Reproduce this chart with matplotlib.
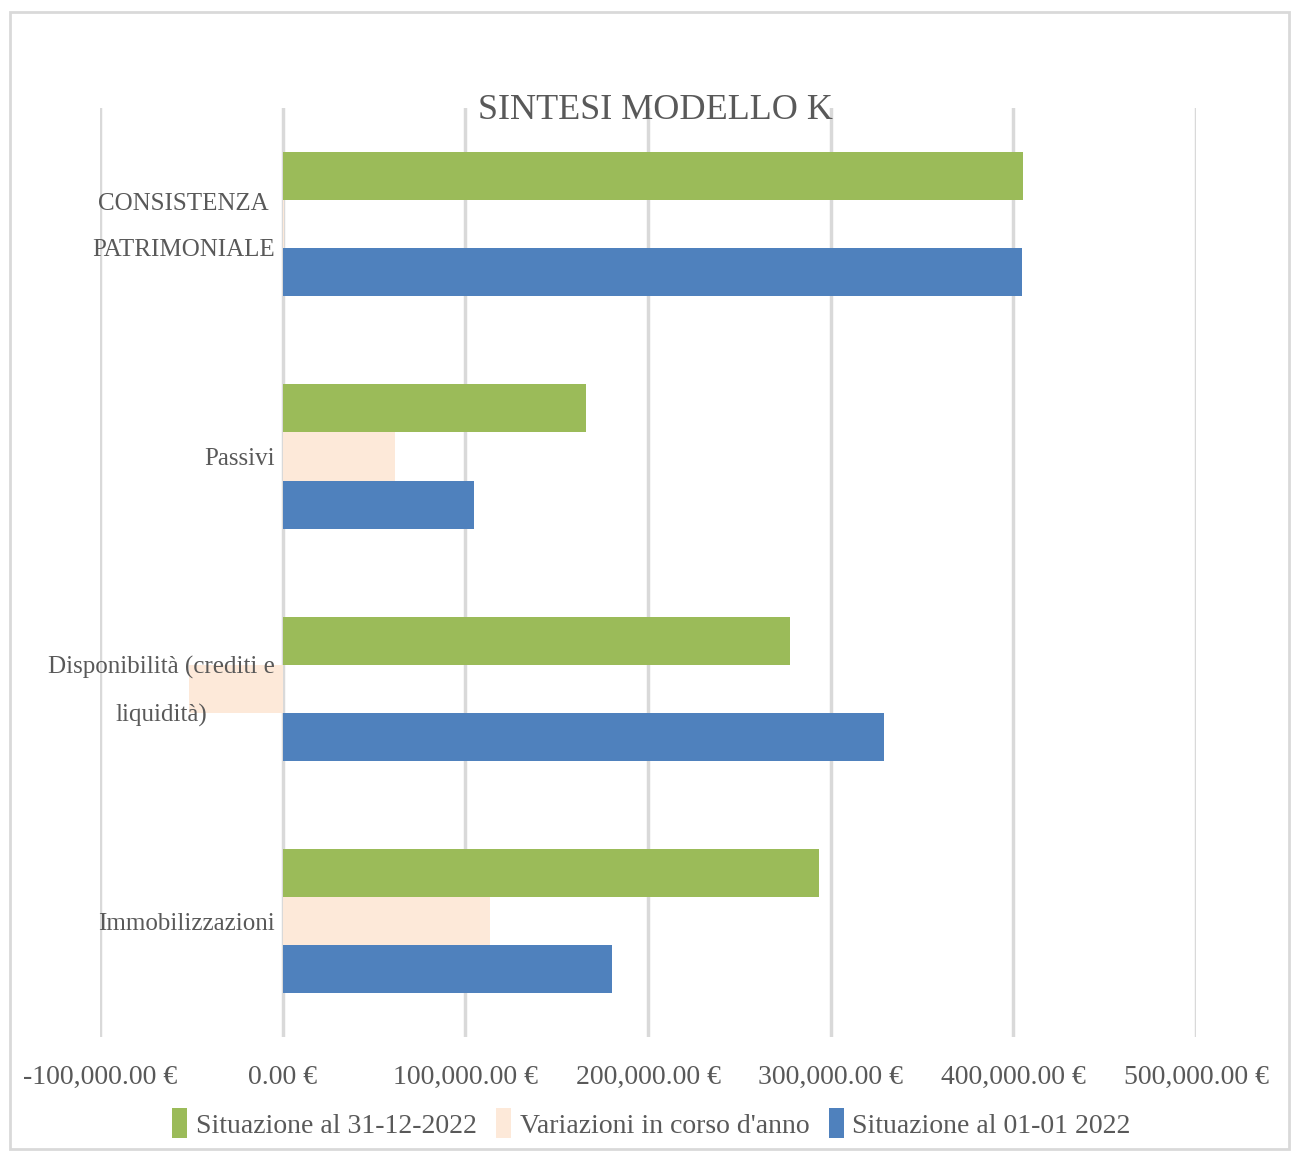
import matplotlib
matplotlib.use("Agg")
import matplotlib.pyplot as plt
import numpy as np
from matplotlib import font_manager
from matplotlib.patches import Rectangle
from matplotlib.ticker import FuncFormatter

categorie = ["Immobilizzazioni", "Disponibilità (crediti e\nliquidità)",
             "Passivi", "CONSISTENZA\nPATRIMONIALE"]
serie = ["Situazione al 31-12-2022", "Variazioni in corso d'anno",
         "Situazione al 01-01 2022"]
fine_anno = [293400, 277500, 165800, 405100]
variazioni = [113300, -51500, 61300, 500]
inizio_anno = [180100, 329000, 104500, 404600]
colori = ["#9BBB59", "#FDE9D9", "#4F81BD"]

# pick a narrow serif if one is around
nomi = {f.name for f in font_manager.fontManager.ttflist}
font = next((n for n in ["DejaVu Serif Condensed", "Liberation Serif", "DejaVu Serif"]
             if n in nomi), "DejaVu Serif")
plt.rcParams['font.family'] = [font, 'DejaVu Sans']
grigio = "#595959"

fig = plt.figure(figsize=(12.91, 11.51), dpi=100)
ax = fig.add_axes([0.0775, 0.099, 0.849, 0.807])

y = np.arange(len(categorie))
h = 0.207
valori = [fine_anno, variazioni, inizio_anno]
for i, (v, c, s) in enumerate(zip(valori, colori, serie)):
    ax.barh(y + (1 - i) * h, v, height=h, color=c, label=s, zorder=2)

ax.set_xlim(-100000, 500000)
ax.set_ylim(-0.5, 3.5)
ax.set_xticks(np.arange(-100000, 500001, 100000))
ax.xaxis.set_major_formatter(FuncFormatter(lambda v, p: "{:,.2f} €".format(v)))
ax.grid(axis='x', color="#d9d9d9", linewidth=2.5, zorder=0)
ax.set_axisbelow(True)
for sp in ax.spines.values():
    sp.set_visible(False)
ax.tick_params(axis='x', length=0, pad=20, labelsize=20, labelcolor=grigio)
ax.set_yticks([])

# category labels sit left of the zero line, like in Excel
for yi, lab in zip(y, categorie):
    ax.annotate(lab, xy=(0, yi), xytext=(-6, -2), textcoords='offset points',
                ha='right', va='center', multialignment='center',
                linespacing=2.4, fontsize=18, color=grigio, zorder=3)

fig.text(0.5075, 0.9036, "SINTESI MODELLO K", ha='center', va='center',
         fontsize=26, color=grigio)

leg = ax.legend(loc='center', bbox_to_anchor=(0.503, -0.093), ncol=3,
                frameon=False, fontsize=20, handlelength=0.55, handleheight=1.3,
                handletextpad=0.3, columnspacing=0.7, labelcolor=grigio)

fig.patches.append(Rectangle((10 / 1291, 2 / 1151), 1279 / 1291, 1137 / 1151,
                             transform=fig.transFigure, fill=False,
                             edgecolor="#d9d9d9", linewidth=2))

fig.savefig("out.png", dpi=100)
